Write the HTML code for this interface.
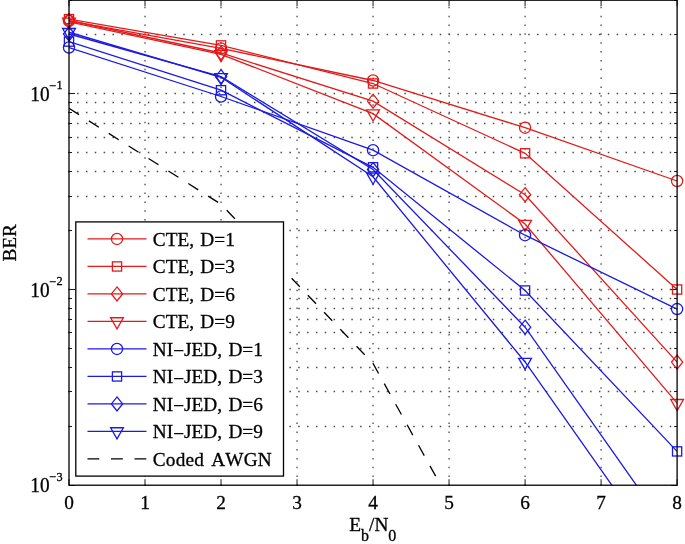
<!DOCTYPE html><html><head><meta charset="utf-8"><style>html,body{margin:0;padding:0;background:#fff;}svg{display:block;will-change:transform;}text{font-family:"Liberation Serif",serif;font-kerning:none;font-feature-settings:"kern" 0;stroke:#000;stroke-width:0.3px;}</style></head><body>
<svg width="685" height="544" viewBox="0 0 685 544">
<rect width="685" height="544" fill="#fff"/>
<defs><clipPath id="ax"><rect x="69.0" y="0.2" width="608.1" height="485.01"/></clipPath></defs>
<path d="M145.01 485.96V0.20M221.03 485.96V0.20M297.04 485.96V0.20M373.05 485.96V0.20M449.06 485.96V0.20M525.08 485.96V0.20M601.09 485.96V0.20M68.25 426.50H677.10M68.25 391.50H677.10M68.25 367.50H677.10M68.25 348.50H677.10M68.25 332.50H677.10M68.25 319.50H677.10M68.25 308.50H677.10M68.25 298.50H677.10M68.25 289.50H677.10M68.25 230.50H677.10M68.25 196.50H677.10M68.25 171.50H677.10M68.25 152.50H677.10M68.25 137.50H677.10M68.25 123.50H677.10M68.25 112.50H677.10M68.25 102.50H677.10M68.25 93.50H677.10M68.25 34.50H677.10" stroke="#4a4a4a" stroke-width="1.3" stroke-dasharray="1.5 7.345000000000001" fill="none"/>
<path d="M69.00 485.21v-6.0M69.00 0.20v6.0M145.01 485.21v-6.0M145.01 0.20v6.0M221.03 485.21v-6.0M221.03 0.20v6.0M297.04 485.21v-6.0M297.04 0.20v6.0M373.05 485.21v-6.0M373.05 0.20v6.0M449.06 485.21v-6.0M449.06 0.20v6.0M525.08 485.21v-6.0M525.08 0.20v6.0M601.09 485.21v-6.0M601.09 0.20v6.0M677.10 485.21v-6.0M677.10 0.20v6.0M69.00 485.50h6.0M677.10 485.50h-6.0M69.00 426.50h3.0M677.10 426.50h-3.0M69.00 391.50h3.0M677.10 391.50h-3.0M69.00 367.50h3.0M677.10 367.50h-3.0M69.00 348.50h3.0M677.10 348.50h-3.0M69.00 332.50h3.0M677.10 332.50h-3.0M69.00 319.50h3.0M677.10 319.50h-3.0M69.00 308.50h3.0M677.10 308.50h-3.0M69.00 298.50h3.0M677.10 298.50h-3.0M69.00 289.50h6.0M677.10 289.50h-6.0M69.00 230.50h3.0M677.10 230.50h-3.0M69.00 196.50h3.0M677.10 196.50h-3.0M69.00 171.50h3.0M677.10 171.50h-3.0M69.00 152.50h3.0M677.10 152.50h-3.0M69.00 137.50h3.0M677.10 137.50h-3.0M69.00 123.50h3.0M677.10 123.50h-3.0M69.00 112.50h3.0M677.10 112.50h-3.0M69.00 102.50h3.0M677.10 102.50h-3.0M69.00 93.50h6.0M677.10 93.50h-6.0M69.00 34.50h3.0M677.10 34.50h-3.0M69.00 0.50h3.0M677.10 0.50h-3.0" stroke="#000" stroke-width="0.9" fill="none"/>
<g clip-path="url(#ax)">
<polyline points="69.00,108.35 221.03,204.20 373.05,363.50 525.08,637.00 677.10,1100.00" fill="none" stroke="#000" stroke-width="1.3" stroke-dasharray="11.8 11.7"/>
<polyline points="69.00,20.80 221.03,48.40 373.05,80.50 525.08,127.70 677.10,181.00" fill="none" stroke="#e41a1a" stroke-width="1.3"/>
<polyline points="69.00,19.10 221.03,45.40 373.05,83.50 525.08,153.30 677.10,289.50" fill="none" stroke="#e41a1a" stroke-width="1.3"/>
<polyline points="69.00,20.50 221.03,53.00 373.05,101.20 525.08,194.70 677.10,362.10" fill="none" stroke="#e41a1a" stroke-width="1.3"/>
<polyline points="69.00,21.90 221.03,54.30 373.05,113.60 525.08,224.00 677.10,403.20" fill="none" stroke="#e41a1a" stroke-width="1.3"/>
<polyline points="69.00,47.50 221.03,96.50 373.05,150.20 525.08,235.20 677.10,309.10" fill="none" stroke="#1a1ae4" stroke-width="1.3"/>
<polyline points="69.00,41.60 221.03,90.20 373.05,167.30 525.08,290.50 677.10,451.40" fill="none" stroke="#1a1ae4" stroke-width="1.3"/>
<polyline points="69.00,34.00 221.03,76.70 373.05,169.50 525.08,327.20 677.10,543.00" fill="none" stroke="#1a1ae4" stroke-width="1.3"/>
<polyline points="69.00,32.20 221.03,77.30 373.05,176.80 525.08,362.00 677.10,577.80" fill="none" stroke="#1a1ae4" stroke-width="1.3"/>
</g>
<circle cx="69.00" cy="20.80" r="5.6" fill="none" stroke="#e41a1a" stroke-width="1.3"/>
<circle cx="221.03" cy="48.40" r="5.6" fill="none" stroke="#e41a1a" stroke-width="1.3"/>
<circle cx="373.05" cy="80.50" r="5.6" fill="none" stroke="#e41a1a" stroke-width="1.3"/>
<circle cx="525.08" cy="127.70" r="5.6" fill="none" stroke="#e41a1a" stroke-width="1.3"/>
<circle cx="677.10" cy="181.00" r="5.6" fill="none" stroke="#e41a1a" stroke-width="1.3"/>
<rect x="64.40" y="14.50" width="9.2" height="9.2" fill="none" stroke="#e41a1a" stroke-width="1.3"/>
<rect x="216.43" y="40.80" width="9.2" height="9.2" fill="none" stroke="#e41a1a" stroke-width="1.3"/>
<rect x="368.45" y="78.90" width="9.2" height="9.2" fill="none" stroke="#e41a1a" stroke-width="1.3"/>
<rect x="520.48" y="148.70" width="9.2" height="9.2" fill="none" stroke="#e41a1a" stroke-width="1.3"/>
<rect x="672.50" y="284.90" width="9.2" height="9.2" fill="none" stroke="#e41a1a" stroke-width="1.3"/>
<path d="M69.00 13.50L74.60 20.50L69.00 27.50L63.40 20.50Z" fill="none" stroke="#e41a1a" stroke-width="1.3"/>
<path d="M221.03 46.00L226.62 53.00L221.03 60.00L215.43 53.00Z" fill="none" stroke="#e41a1a" stroke-width="1.3"/>
<path d="M373.05 94.20L378.65 101.20L373.05 108.20L367.45 101.20Z" fill="none" stroke="#e41a1a" stroke-width="1.3"/>
<path d="M525.08 187.70L530.68 194.70L525.08 201.70L519.48 194.70Z" fill="none" stroke="#e41a1a" stroke-width="1.3"/>
<path d="M677.10 355.10L682.70 362.10L677.10 369.10L671.50 362.10Z" fill="none" stroke="#e41a1a" stroke-width="1.3"/>
<path d="M62.60 18.20L75.40 18.20L69.00 29.30Z" fill="none" stroke="#e41a1a" stroke-width="1.3"/>
<path d="M214.62 50.60L227.43 50.60L221.03 61.70Z" fill="none" stroke="#e41a1a" stroke-width="1.3"/>
<path d="M366.65 109.90L379.45 109.90L373.05 121.00Z" fill="none" stroke="#e41a1a" stroke-width="1.3"/>
<path d="M518.68 220.30L531.48 220.30L525.08 231.40Z" fill="none" stroke="#e41a1a" stroke-width="1.3"/>
<path d="M670.70 399.50L683.50 399.50L677.10 410.60Z" fill="none" stroke="#e41a1a" stroke-width="1.3"/>
<circle cx="69.00" cy="47.50" r="5.6" fill="none" stroke="#1a1ae4" stroke-width="1.3"/>
<circle cx="221.03" cy="96.50" r="5.6" fill="none" stroke="#1a1ae4" stroke-width="1.3"/>
<circle cx="373.05" cy="150.20" r="5.6" fill="none" stroke="#1a1ae4" stroke-width="1.3"/>
<circle cx="525.08" cy="235.20" r="5.6" fill="none" stroke="#1a1ae4" stroke-width="1.3"/>
<circle cx="677.10" cy="309.10" r="5.6" fill="none" stroke="#1a1ae4" stroke-width="1.3"/>
<rect x="64.40" y="37.00" width="9.2" height="9.2" fill="none" stroke="#1a1ae4" stroke-width="1.3"/>
<rect x="216.43" y="85.60" width="9.2" height="9.2" fill="none" stroke="#1a1ae4" stroke-width="1.3"/>
<rect x="368.45" y="162.70" width="9.2" height="9.2" fill="none" stroke="#1a1ae4" stroke-width="1.3"/>
<rect x="520.48" y="285.90" width="9.2" height="9.2" fill="none" stroke="#1a1ae4" stroke-width="1.3"/>
<rect x="672.50" y="446.80" width="9.2" height="9.2" fill="none" stroke="#1a1ae4" stroke-width="1.3"/>
<path d="M69.00 27.00L74.60 34.00L69.00 41.00L63.40 34.00Z" fill="none" stroke="#1a1ae4" stroke-width="1.3"/>
<path d="M221.03 69.70L226.62 76.70L221.03 83.70L215.43 76.70Z" fill="none" stroke="#1a1ae4" stroke-width="1.3"/>
<path d="M373.05 162.50L378.65 169.50L373.05 176.50L367.45 169.50Z" fill="none" stroke="#1a1ae4" stroke-width="1.3"/>
<path d="M525.08 320.20L530.68 327.20L525.08 334.20L519.48 327.20Z" fill="none" stroke="#1a1ae4" stroke-width="1.3"/>
<path d="M62.60 28.50L75.40 28.50L69.00 39.60Z" fill="none" stroke="#1a1ae4" stroke-width="1.3"/>
<path d="M214.62 73.60L227.43 73.60L221.03 84.70Z" fill="none" stroke="#1a1ae4" stroke-width="1.3"/>
<path d="M366.65 173.10L379.45 173.10L373.05 184.20Z" fill="none" stroke="#1a1ae4" stroke-width="1.3"/>
<path d="M518.68 358.30L531.48 358.30L525.08 369.40Z" fill="none" stroke="#1a1ae4" stroke-width="1.3"/>
<rect x="69.0" y="0.2" width="608.10" height="485.01" fill="none" stroke="#000" stroke-width="1.3"/>
<rect x="75.8" y="221.9" width="207.70" height="254.20" fill="#fff" stroke="#000" stroke-width="1.3"/>
<path d="M87.5 238.95H146.5" stroke="#e41a1a" stroke-width="1.3"/>
<circle cx="117.00" cy="238.95" r="5.6" fill="none" stroke="#e41a1a" stroke-width="1.3"/>
<text x="152.8" y="245.65" font-size="19.3" word-spacing="1.5">CTE, D=1</text>
<path d="M87.5 266.45H146.5" stroke="#e41a1a" stroke-width="1.3"/>
<rect x="112.40" y="261.85" width="9.2" height="9.2" fill="none" stroke="#e41a1a" stroke-width="1.3"/>
<text x="152.8" y="273.15" font-size="19.3" word-spacing="1.5">CTE, D=3</text>
<path d="M87.5 293.95H146.5" stroke="#e41a1a" stroke-width="1.3"/>
<path d="M117.00 286.95L122.60 293.95L117.00 300.95L111.40 293.95Z" fill="none" stroke="#e41a1a" stroke-width="1.3"/>
<text x="152.8" y="300.65" font-size="19.3" word-spacing="1.5">CTE, D=6</text>
<path d="M87.5 321.45H146.5" stroke="#e41a1a" stroke-width="1.3"/>
<path d="M110.60 317.75L123.40 317.75L117.00 328.85Z" fill="none" stroke="#e41a1a" stroke-width="1.3"/>
<text x="152.8" y="328.15" font-size="19.3" word-spacing="1.5">CTE, D=9</text>
<path d="M87.5 348.95H146.5" stroke="#1a1ae4" stroke-width="1.3"/>
<circle cx="117.00" cy="348.95" r="5.6" fill="none" stroke="#1a1ae4" stroke-width="1.3"/>
<text x="152.8" y="355.65" font-size="19.3" word-spacing="1.5">NI<tspan dy="1.4">−</tspan><tspan dy="-1.4">JED, D=1</tspan></text>
<path d="M87.5 376.45H146.5" stroke="#1a1ae4" stroke-width="1.3"/>
<rect x="112.40" y="371.85" width="9.2" height="9.2" fill="none" stroke="#1a1ae4" stroke-width="1.3"/>
<text x="152.8" y="383.15" font-size="19.3" word-spacing="1.5">NI<tspan dy="1.4">−</tspan><tspan dy="-1.4">JED, D=3</tspan></text>
<path d="M87.5 403.95H146.5" stroke="#1a1ae4" stroke-width="1.3"/>
<path d="M117.00 396.95L122.60 403.95L117.00 410.95L111.40 403.95Z" fill="none" stroke="#1a1ae4" stroke-width="1.3"/>
<text x="152.8" y="410.65" font-size="19.3" word-spacing="1.5">NI<tspan dy="1.4">−</tspan><tspan dy="-1.4">JED, D=6</tspan></text>
<path d="M87.5 431.45H146.5" stroke="#1a1ae4" stroke-width="1.3"/>
<path d="M110.60 427.75L123.40 427.75L117.00 438.85Z" fill="none" stroke="#1a1ae4" stroke-width="1.3"/>
<text x="152.8" y="438.15" font-size="19.3" word-spacing="1.5">NI<tspan dy="1.4">−</tspan><tspan dy="-1.4">JED, D=9</tspan></text>
<path d="M87.5 458.95H146.5" stroke="#000" stroke-width="1.3" stroke-dasharray="11.8 11.7"/>
<text x="152.8" y="465.65" font-size="19.3" word-spacing="2" letter-spacing="0.2">Coded AWGN</text>
<text x="69.00" y="508.5" font-size="19.3" text-anchor="middle">0</text>
<text x="145.01" y="508.5" font-size="19.3" text-anchor="middle">1</text>
<text x="221.03" y="508.5" font-size="19.3" text-anchor="middle">2</text>
<text x="297.04" y="508.5" font-size="19.3" text-anchor="middle">3</text>
<text x="373.05" y="508.5" font-size="19.3" text-anchor="middle">4</text>
<text x="449.06" y="508.5" font-size="19.3" text-anchor="middle">5</text>
<text x="525.08" y="508.5" font-size="19.3" text-anchor="middle">6</text>
<text x="601.09" y="508.5" font-size="19.3" text-anchor="middle">7</text>
<text x="677.10" y="508.5" font-size="19.3" text-anchor="middle">8</text>
<text transform="translate(30.3 100.83) scale(1 1.075)" font-size="19.3">10</text>
<text x="49.60" y="89.83" font-size="12.3">−<tspan dy="-0.9">1</tspan></text>
<text transform="translate(30.3 296.62) scale(1 1.075)" font-size="19.3">10</text>
<text x="49.60" y="285.62" font-size="12.3">−<tspan dy="-0.9">2</tspan></text>
<text transform="translate(30.3 492.41) scale(1 1.075)" font-size="19.3">10</text>
<text x="49.60" y="481.41" font-size="12.3">−<tspan dy="-0.9">3</tspan></text>
<text transform="translate(16.2 242.8) rotate(-90)" font-size="19.3" text-anchor="middle">BER</text>
<text x="349.3" y="530.5" font-size="19.3">E<tspan font-size="16.0" dy="10">b</tspan><tspan dy="-10">/N</tspan><tspan font-size="16.0" dy="10">0</tspan></text>
</svg></body></html>
